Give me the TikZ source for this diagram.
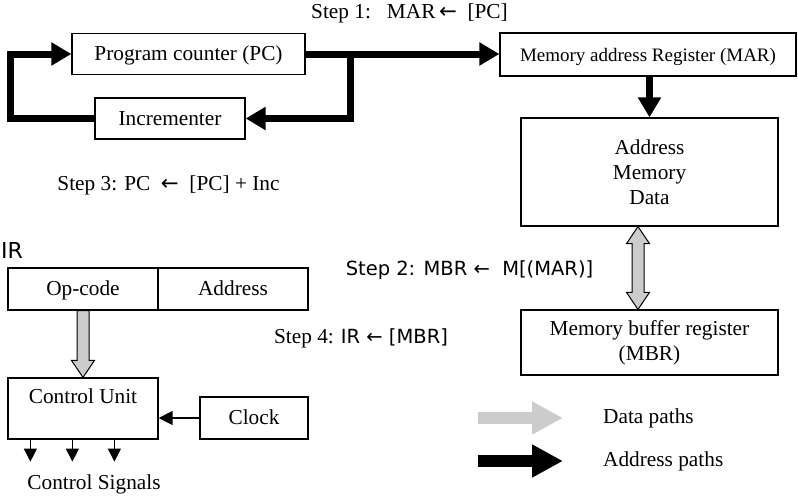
\documentclass[tikz,border=0pt]{standalone}
\usepackage{fontspec}
\setmainfont{Liberation Serif}
\newfontfamily\vsans{DejaVu Sans}
\usetikzlibrary{arrows.meta,calc}
\tikzset{
  box/.style={draw, line width=1.2pt, inner sep=0pt, align=center, font=\fontsize{21.3}{25}\selectfont},
  oneline/.style={text height=16pt, text depth=3pt},
  txt/.style={inner sep=0pt, font=\fontsize{21.3}{25}\selectfont},
  stxt/.style={inner sep=0pt, font=\vsans\fontsize{19.5}{23}\selectfont},
  addr/.style={line width=7pt, -{Triangle[length=20pt,width=22pt]}},
  dpath/.style={draw=black, line width=1pt, fill=gray!40},
  sig/.style={line width=1.3pt, -{Triangle[length=13pt,width=13pt]}},
}
\newcommand{\la}{{\vsans ←}}

\begin{document}
\begin{tikzpicture}[x=1pt,y=-1pt]
\useasboundingbox (0,0) rectangle (798,499);

% --- registros ---
\node[box, oneline, minimum width=233, minimum height=41] (pc) at (188.5,54) {Program counter (PC)};
\node[box, oneline, minimum width=150, minimum height=41] (inc) at (170,118.5) {Incrementer};
\node[box, oneline, minimum width=296, minimum height=43, font=\fontsize{19}{23}\selectfont] (mar) at (648,54.5) {Memory address Register (MAR)};
\node[box, minimum width=257, minimum height=108] (mem) at (649.5,172) {Address\\Memory\\Data};
\node[box, minimum width=257, minimum height=65] (mbr) at (649.5,342.5) {Memory buffer register\\(MBR)};

% --- IR + control ---
\node[inner sep=0pt, anchor=west, font=\vsans\fontsize{22}{26}\selectfont] (irl) at (1,250) {IR};
\node[box, oneline, minimum width=150, minimum height=42] (op) at (83,289) {Op-code};
\node[box, oneline, minimum width=150, minimum height=42] (adr) at (233,289) {Address};
\node[box, minimum width=150, minimum height=61] (ctrl) at (83,408.5) {Control Unit\\\mbox{}};
\node[box, oneline, minimum width=108, minimum height=42] (clk) at (254,418) {Clock};
\node[txt] (sigl) at (94,484) {Control Signals};

% --- pasos ---
\node[txt] (s1) at (409.5,13) {Step 1:\ \ \ MAR\,\la\ \ [PC]};
\node[txt] (s3) at (168.5,185) {Step 3: PC \ \la\ \ [PC] + Inc};
\node[stxt] (s2) at (469.5,270) {Step 2: MBR \la\ \ M[(MAR)]};
\node[txt] (s4) at (361,338) {Step 4: {\vsans\fontsize{19.5}{23}\selectfont IR \la\ [MBR]}};

% --- caminos de direcciones ---
\coordinate (br) at (350.5,54);
\coordinate (lp) at (10.5,118.5);
\draw[addr] (pc.east) -- (pc.east -| mar.west);
\draw[addr] (br) |- (inc.east);
\draw[addr] (inc.west) -- (lp) |- (pc.west);
\draw[addr] (mem.north |- mar.south) -- (mem.north);

% --- caminos de datos ---
\filldraw[dpath] ($(op.south)+(-6,0)$) -- ($(ctrl.north)+(-6,-17)$) -- ($(ctrl.north)+(-11.5,-17)$)
  -- (ctrl.north) -- ($(ctrl.north)+(11.5,-17)$) -- ($(ctrl.north)+(6,-17)$) -- ($(op.south)+(6,0)$) -- cycle;
\coordinate (dt) at ($(mem.south)+(-11.5,0)$);
\coordinate (db) at ($(mbr.north)+(-11.5,0)$);
\filldraw[dpath] (dt) -- ($(dt)+(11.5,17)$) -- ($(dt)+(6,17)$) -- ($(db)+(6,-17)$) -- ($(db)+(11.5,-17)$)
  -- (db) -- ($(db)+(-11.5,-17)$) -- ($(db)+(-6,-17)$) -- ($(dt)+(-6,17)$) -- ($(dt)+(-11.5,17)$) -- cycle;

% reloj y senales
\draw[sig, -{Triangle[length=14pt,width=14pt]}] (clk.west) -- (clk.west -| ctrl.east);
\foreach \dx [count=\i] in {23,65,107} {
  \coordinate (c\i) at ($(ctrl.south west)+(\dx,22)$);
  \draw[sig] (ctrl.south west -| c\i) -- (c\i);
}

% leyenda
\coordinate (d0) at (478,418);
\coordinate (d1) at (563,418);
\coordinate (a0) at (478,461);
\coordinate (a1) at (563,461);
\draw[line width=12pt, draw=gray!40, -{Triangle[length=31pt,width=31pt]}] (d0) -- (d1);
\draw[line width=12pt, -{Triangle[length=31pt,width=31pt]}] (a0) -- (a1);
\node[txt, anchor=west] (dl) at (603,418) {Data paths};
\node[txt, anchor=west] (al) at (603,461) {Address paths};
\end{tikzpicture}
\end{document}
